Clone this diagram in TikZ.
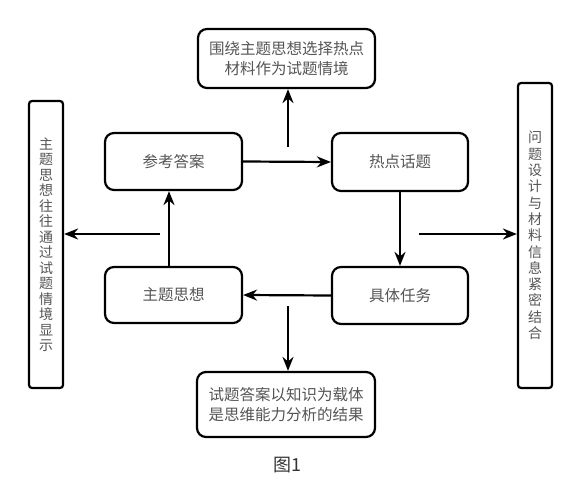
\documentclass[tikz,border=0pt]{standalone}
\usepackage{fontspec}
\newfontfamily\cjk{Noto Sans CJK SC}
\usetikzlibrary{arrows.meta}
\definecolor{txt}{HTML}{555555}
\tikzset{
  box/.style={draw=black, line width=2.2pt, rounded corners=9pt, text=txt, font=\cjk\fontsize{15.5}{20}\selectfont, align=center, inner sep=0pt},
  vbox/.style={draw=black, line width=2.2pt, rounded corners=3pt, text=txt, font=\cjk\fontsize{14}{15.5}\selectfont, align=center, inner sep=0pt},
  arr/.style={line width=2.2pt, -{Stealth[length=14pt,width=11pt]}},
  ln/.style={line width=2.2pt}
}
\begin{document}
\begin{tikzpicture}[x=1pt,y=-1pt]
\useasboundingbox[fill=white] (0,0) rectangle (584,487);
% main boxes
\node[box, minimum width=137pt, minimum height=57pt] (ck) at (173.5,161.5) {参考答案};
\node[box, minimum width=136pt, minimum height=58pt] (rd) at (400,162) {热点话题};
\node[box, minimum width=136pt, minimum height=57pt] (rw) at (400,295.5) {具体任务};
\node[box, minimum width=137pt, minimum height=56pt] (zt) at (173.5,295) {主题思想};
\node[box, minimum width=177pt, minimum height=59pt] (top) at (286.5,58.5) {围绕主题思想选择热点\\材料作为试题情境};
\node[box, minimum width=178pt, minimum height=65pt] (bot) at (286,404.5) {试题答案以知识为载体\\是思维能力分析的结果};
\node[vbox, minimum width=34pt, minimum height=287pt] (lv) at (46,244.5) {主\\题\\思\\想\\往\\往\\通\\过\\试\\题\\情\\境\\显\\示};
\node[vbox, minimum width=34pt, minimum height=305pt, font=\cjk\fontsize{14}{16.3}\selectfont] (rv) at (535,235.5) {问\\题\\设\\计\\与\\材\\料\\信\\息\\紧\\密\\结\\合};
\node[font=\fontsize{18}{20}\selectfont\cjk, text=black!80] (cap) at (287,465) {图1};
% coordinates
\coordinate (a1) at (288,147);
\coordinate (a2) at (169,234);
\coordinate (a3) at (160,234);
\coordinate (a4) at (419,234);
\coordinate (a5) at (288,306);
% connectors
\draw[arr] (ck.east) -- (rd.west);
\draw[arr] (a1) -- (a1 |- top.south);
\draw[arr] (rd.south) -- (rw.north);
\draw[arr] (rw.west) -- (zt.east);
\draw[arr] (zt.north -| a2) -- (ck.south -| a2);
\draw[arr] (a3) -- (lv.east |- a3);
\draw[arr] (a4) -- (rv.west |- a4);
\draw[arr] (a5) -- (a5 |- bot.north);
\end{tikzpicture}
\end{document}
